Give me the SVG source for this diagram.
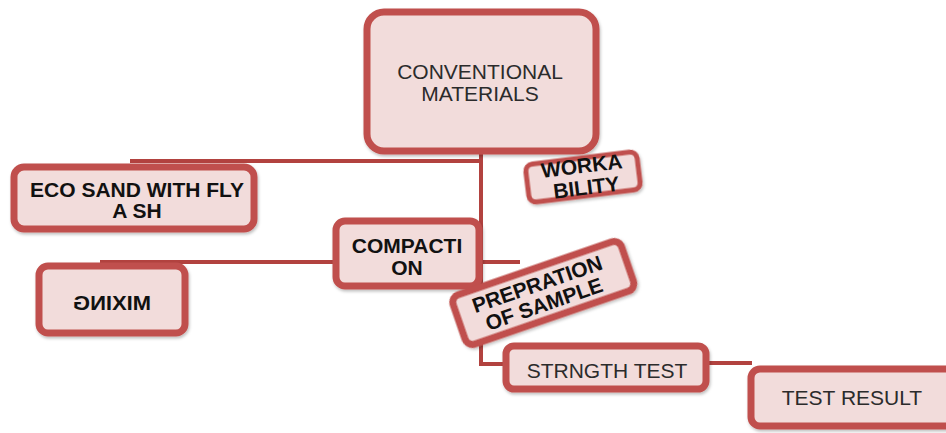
<svg xmlns="http://www.w3.org/2000/svg" width="946" height="433" viewBox="0 0 946 433">
  <defs>
    <filter id="shadow" x="-10%" y="-10%" width="120%" height="130%">
      <feDropShadow dx="1" dy="2" stdDeviation="1.5" flood-color="#000" flood-opacity="0.25"/>
    </filter>
  </defs>
  <style>
    .box { fill: #f2dcdb; stroke: #c0504d; stroke-width: 7; filter: url(#shadow); }
    .thin { stroke-width: 5; }
    .link { fill: none; stroke: #b2423f; stroke-width: 4; }
    .lbl { font-family: "Liberation Sans", Arial, sans-serif; font-size: 21px; fill: #2b2b2b; text-anchor: middle; }
    .bold { font-weight: bold; fill: #111; }
  </style>
  <rect width="946" height="433" fill="#ffffff"/>

  <!-- connectors -->
  <g id="connectors">
    <path class="link" d="M481 150 V364 H508"/>
    <path class="link" d="M130 161 H481"/>
    <path class="link" d="M100 262 H520"/>
    <path class="link" d="M704 363 H752"/>
  </g>

  <g id="conventional-materials">
    <rect class="box" x="367" y="12" width="229" height="139" rx="17"/>
    <text class="lbl" x="480" y="79">CONVENTIONAL</text>
    <text class="lbl" x="480" y="101">MATERIALS</text>
  </g>

  <g id="eco-sand">
    <rect class="box" x="14" y="167" width="240" height="62" rx="10"/>
    <text class="lbl bold" x="137" y="197">ECO SAND WITH FLY</text>
    <text class="lbl bold" x="137" y="218">A SH</text>
  </g>

  <g id="workability" transform="translate(583 177) rotate(-7)">
    <rect class="box thin" x="-56" y="-19" width="112" height="38" rx="7"/>
    <text class="lbl bold" x="0" y="-4" font-size="20">WORKA</text>
    <text class="lbl bold" x="2" y="18" font-size="20">BILITY</text>
  </g>

  <g id="compaction">
    <rect class="box" x="336" y="221" width="143" height="65" rx="9"/>
    <text class="lbl bold" x="407" y="253">COMPACTI</text>
    <text class="lbl bold" x="407" y="275">ON</text>
  </g>

  <g id="mixing">
    <rect class="box" x="39" y="266" width="146" height="67" rx="9"/>
    <text class="lbl bold" x="0" y="310" font-size="17" transform="translate(112 0) scale(-1 1)" textLength="78" lengthAdjust="spacingAndGlyphs">MIXING</text>
  </g>

  <g id="prepration-of-sample" transform="translate(543 292) rotate(-19)">
    <rect class="box" x="-89" y="-25" width="178" height="52" rx="8"/>
    <text class="lbl bold" x="-3" y="-2">PREPRATION</text>
    <text class="lbl bold" x="-3" y="19">OF SAMPLE</text>
  </g>

  <g id="strength-test">
    <rect class="box" x="506" y="346" width="200" height="43" rx="8"/>
    <text class="lbl" x="607" y="378" font-size="20">STRNGTH TEST</text>
  </g>

  <g id="test-result">
    <rect class="box" x="751" y="369" width="210" height="57" rx="9"/>
    <text class="lbl" x="852" y="405" font-size="20">TEST RESULT</text>
  </g>
</svg>
